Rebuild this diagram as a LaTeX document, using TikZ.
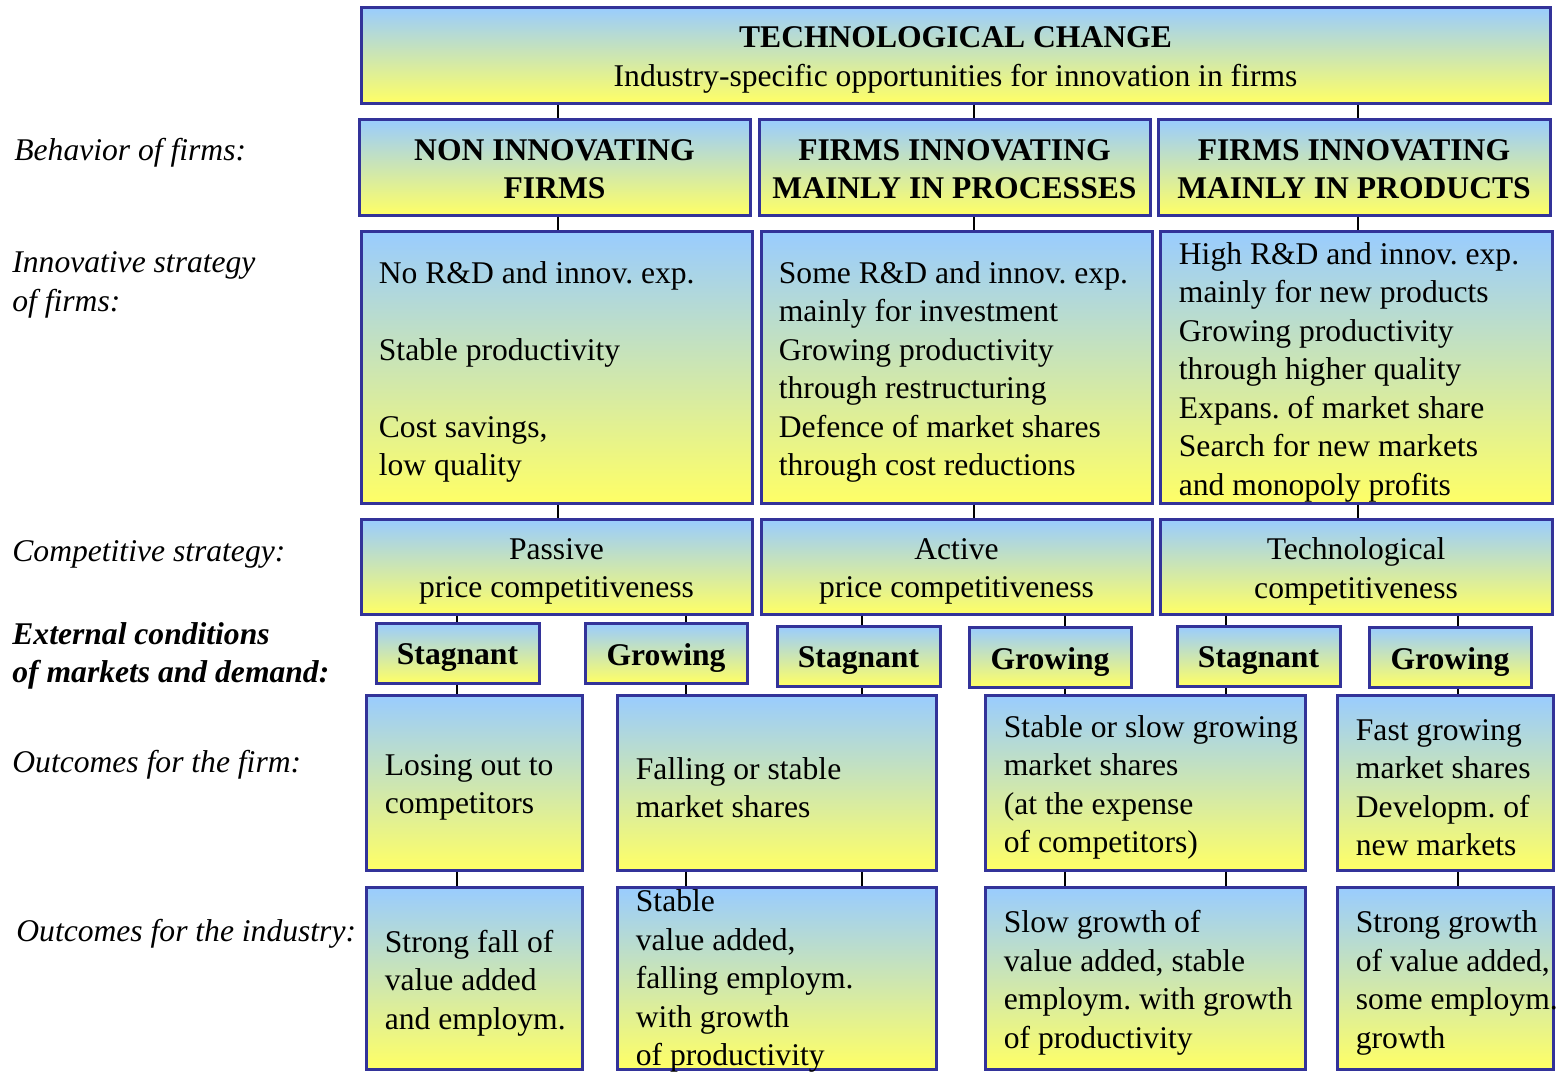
\documentclass[tikz,border=0pt]{standalone}
\usepackage{fontspec}
\setmainfont{Liberation Serif}
\usetikzlibrary{fit}

\definecolor{boxblue}{RGB}{153,204,255}
\definecolor{boxyellow}{RGB}{255,255,102}
\definecolor{boxline}{RGB}{51,51,153}
\newcommand{\chartfont}{\fontsize{15.8}{19.25}\selectfont\frenchspacing}

\tikzset{
  panel/.style={draw=boxline, line width=1.5pt, top color=boxblue,
    bottom color=boxyellow, inner sep=0pt},
  midtext/.style={align=center, inner sep=0pt, yshift=-2.5pt},
  headtext/.style={midtext, font=\chartfont\bfseries},
  bodytext/.style={anchor=west, align=left, inner sep=0pt, yshift=-2.5pt},
  rowlabel/.style={anchor=west, align=left, inner sep=0pt, yshift=-2pt, font=\chartfont\itshape},
  link/.style={draw=black, line width=0.9pt}
}

\begin{document}
\begin{tikzpicture}[x=0.5pt, y=-0.5pt, font=\chartfont]
  \useasboundingbox (0,0) rectangle (1557,1071);

  % columns of the connectors
  \coordinate (colP) at (558,0);
  \coordinate (colQ) at (974,0);
  \coordinate (colR) at (1358,0);
  \coordinate (col1) at (457,0);
  \coordinate (col2) at (686,0);
  \coordinate (col3) at (862,0);
  \coordinate (col4) at (1065,0);
  \coordinate (col5) at (1226,0);
  \coordinate (col6) at (1458,0);

  % row labels
  \node[rowlabel] (lblBehav) at (14,149) {Behavior of firms:};
  \node[rowlabel] (lblInno) at (12,281) {Innovative strategy\\of firms:};
  \node[rowlabel] (lblComp) at (12,550) {Competitive strategy:};
  \node[rowlabel, font=\chartfont\bfseries\itshape] (lblMarket) at (12,652)
    {External conditions\\of markets and demand:};
  \node[rowlabel] (lblFirm) at (12,761) {Outcomes for the firm:};
  \node[rowlabel] (lblIndus) at (16,930) {Outcomes for the industry:};

  % top
  \node[panel, fit={(361,7) (1550,103)}] (techchange) {};
  \node[midtext] (techchangeTxt) at (techchange.center)
    {{\bfseries TECHNOLOGICAL CHANGE}\\Industry-specific opportunities for innovation in firms};

  % behaviour of firms
  \node[panel, fit={(359,119) (750,215)}] (nonInno) {};
  \node[panel, fit={(759,119) (1150,215)}] (procInno) {};
  \node[panel, fit={(1158,119) (1550,215)}] (prodInno) {};
  \node[headtext, yshift=1.5pt] (nonInnoTxt) at (nonInno.center) {NON INNOVATING\\FIRMS};
  \node[headtext, yshift=1.5pt] (procInnoTxt) at (procInno.center) {FIRMS INNOVATING\\MAINLY IN PROCESSES};
  \node[headtext, yshift=1.5pt] (prodInnoTxt) at (prodInno.center) {FIRMS INNOVATING\\MAINLY IN PRODUCTS};

  % innovative strategy
  \node[panel, fit={(361,231) (752,503)}] (stratNon) {};
  \node[panel, fit={(761,231) (1152,503)}] (stratProc) {};
  \node[panel, fit={(1160,231) (1552,503)}] (stratProd) {};
  \node[bodytext] (stratNonTxt) at ([xshift=9.5pt]stratNon.west)
    {No R\&D and innov. exp.\\[19.25pt]Stable productivity\\[19.25pt]Cost savings,\\low quality};
  \node[bodytext] (stratProcTxt) at ([xshift=9.5pt]stratProc.west)
    {Some R\&D and innov. exp.\\mainly for investment\\Growing productivity\\through restructuring\\Defence of market shares\\through cost reductions};
  \node[bodytext] (stratProdTxt) at ([xshift=10pt]stratProd.west)
    {High R\&D and innov. exp.\\mainly for new products\\Growing productivity\\through higher quality\\Expans. of market share\\Search for new markets\\and monopoly profits};

  % competitive strategy
  \node[panel, fit={(361,519) (752,614)}] (compPassive) {};
  \node[panel, fit={(761,519) (1152,614)}] (compActive) {};
  \node[panel, fit={(1160,519) (1552,614)}] (compTech) {};
  \node[midtext] (compPassiveTxt) at (compPassive.center) {Passive\\price competitiveness};
  \node[midtext] (compActiveTxt) at (compActive.center) {Active\\price competitiveness};
  \node[midtext] (compTechTxt) at (compTech.center) {Technological\\competitiveness};

  % markets and demand
  \node[panel, fit={(376,623) (539,683)}] (stagA) {};
  \node[panel, fit={(585,623) (747,683)}] (growA) {};
  \node[panel, fit={(777,626) (940,686)}] (stagB) {};
  \node[panel, fit={(969,627) (1131,687)}] (growB) {};
  \node[panel, fit={(1177,626) (1340,686)}] (stagC) {};
  \node[panel, fit={(1369,627) (1531,687)}] (growC) {};
  \node[headtext] (stagAtxt) at (stagA.center) {Stagnant};
  \node[headtext] (growAtxt) at (growA.center) {Growing};
  \node[headtext] (stagBtxt) at (stagB.center) {Stagnant};
  \node[headtext] (growBtxt) at (growB.center) {Growing};
  \node[headtext] (stagCtxt) at (stagC.center) {Stagnant};
  \node[headtext] (growCtxt) at (growC.center) {Growing};

  % outcomes for the firm
  \node[panel, fit={(366,695) (582,870)}] (firmA) {};
  \node[panel, fit={(617,695) (936,870)}] (firmB) {};
  \node[panel, fit={(985,695) (1305,870)}] (firmC) {};
  \node[panel, fit={(1337,695) (1553,870)}] (firmD) {};
  \node[bodytext] (firmAtxt) at ([xshift=10pt]firmA.west) {Losing out to\\competitors};
  \node[bodytext] (firmBtxt) at ([xshift=10pt]firmB.west) {Falling or stable\\market shares};
  \node[bodytext] (firmCtxt) at ([xshift=10pt]firmC.west)
    {Stable or slow growing\\market shares\\(at the expense\\of competitors)};
  \node[bodytext] (firmDtxt) at ([xshift=10pt]firmD.west)
    {Fast growing\\market shares\\Developm. of\\new markets};

  % outcomes for the industry
  \node[panel, fit={(366,887) (582,1069)}] (indA) {};
  \node[panel, fit={(617,887) (936,1069)}] (indB) {};
  \node[panel, fit={(985,887) (1305,1069)}] (indC) {};
  \node[panel, fit={(1337,887) (1553,1069)}] (indD) {};
  \node[bodytext] (indAtxt) at ([xshift=10pt]indA.west)
    {Strong fall of\\value added\\and employm.};
  \node[bodytext, yshift=1pt] (indBtxt) at ([xshift=10pt]indB.west)
    {Stable\\value added,\\falling employm.\\with growth\\of productivity};
  \node[bodytext] (indCtxt) at ([xshift=10pt]indC.west)
    {Slow growth of\\value added, stable\\employm. with growth\\of productivity};
  \node[bodytext] (indDtxt) at ([xshift=10pt]indD.west)
    {Strong growth\\of value added,\\some employm.\\growth};

  \begin{scope}[link]
    \draw (techchange.south -| colP) -- (nonInno.north -| colP);
    \draw (techchange.south -| colQ) -- (procInno.north -| colQ);
    \draw (techchange.south -| colR) -- (prodInno.north -| colR);
    \draw (nonInno.south -| colP) -- (stratNon.north -| colP);
    \draw (procInno.south -| colQ) -- (stratProc.north -| colQ);
    \draw (prodInno.south -| colR) -- (stratProd.north -| colR);
    \draw (stratNon.south -| colP) -- (compPassive.north -| colP);
    \draw (stratProc.south -| colQ) -- (compActive.north -| colQ);
    \draw (stratProd.south -| colR) -- (compTech.north -| colR);
    \draw (compPassive.south -| col1) -- (stagA.north -| col1);
    \draw (compPassive.south -| col2) -- (growA.north -| col2);
    \draw (compActive.south -| col3) -- (stagB.north -| col3);
    \draw (compActive.south -| col4) -- (growB.north -| col4);
    \draw (compTech.south -| col5) -- (stagC.north -| col5);
    \draw (compTech.south -| col6) -- (growC.north -| col6);
    \draw (stagA.south -| col1) -- (firmA.north -| col1);
    \draw (growA.south -| col2) -- (firmB.north -| col2);
    \draw (stagB.south -| col3) -- (firmB.north -| col3);
    \draw (growB.south -| col4) -- (firmC.north -| col4);
    \draw (stagC.south -| col5) -- (firmC.north -| col5);
    \draw (growC.south -| col6) -- (firmD.north -| col6);
    \draw (firmA.south -| col1) -- (indA.north -| col1);
    \draw (firmB.south -| col2) -- (indB.north -| col2);
    \draw (firmB.south -| col3) -- (indB.north -| col3);
    \draw (firmC.south -| col4) -- (indC.north -| col4);
    \draw (firmC.south -| col5) -- (indC.north -| col5);
    \draw (firmD.south -| col6) -- (indD.north -| col6);
  \end{scope}
\end{tikzpicture}
\end{document}
